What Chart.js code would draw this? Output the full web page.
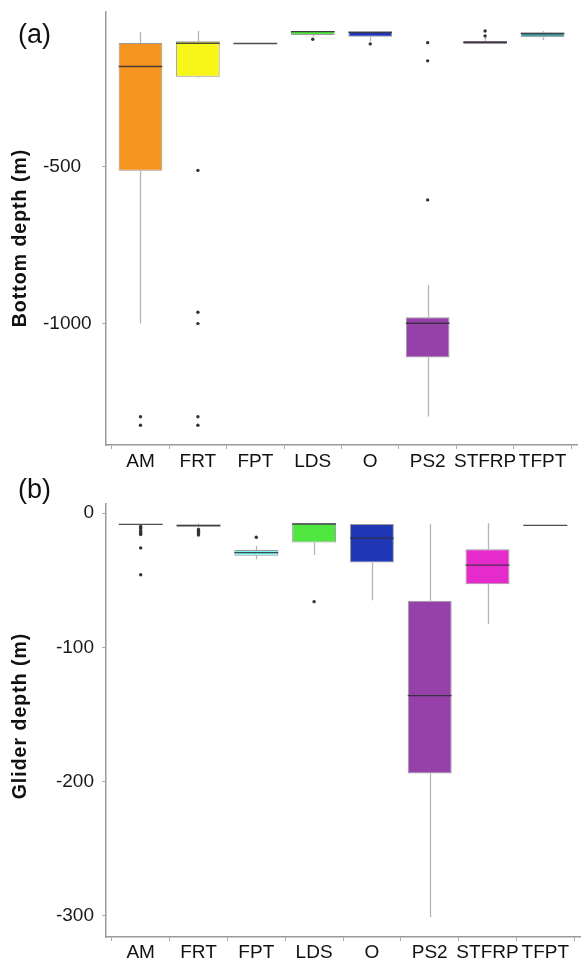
<!DOCTYPE html>
<html>
<head>
<meta charset="utf-8">
<script src="https://cdn.jsdelivr.net/npm/chart.js@4/dist/chart.umd.min.js"></script>
<style>
  html, body { margin: 0; padding: 0; background: #fff; }
  body { width: 584px; height: 960px; position: relative; overflow: hidden; font-family: "Liberation Sans", Arial, sans-serif; }
  .wrap { position: absolute; left: 0; width: 584px; height: 480px; }
  .panel { position: absolute; font-size: 27px; color: #111; line-height: 1; }
  .ytitle { position: absolute; font-weight: bold; font-size: 19.5px; letter-spacing: 1px; color: #111; white-space: nowrap; transform: translate(-50%, -50%) rotate(-90deg); line-height: 1; }
</style>
</head>
<body>
<div class="wrap" style="top:0"><canvas id="ca" width="584" height="480"></canvas></div>
<div class="wrap" style="top:480px"><canvas id="cb" width="584" height="480"></canvas></div>
<div class="panel" style="left:18px; top:21px">(a)</div>
<div class="panel" style="left:18px; top:476px">(b)</div>
<div class="ytitle" style="left:20px; top:238px">Bottom depth (m)</div>
<div class="ytitle" style="left:20px; top:716px">Glider depth (m)</div>
<script>
// ---------- data ----------
const categories = ["AM", "FRT", "FPT", "LDS", "O", "PS2", "STFRP", "TFPT"];
const boxColors = ["#F5951F", "#F8F518", "#80F4F0", "#4FE63F", "#1F37B5", "#9541A9", "#E52BCB", "#4A9DA0"];

// Panel (a): bottom depth (m)
const bottomHi  = [-70,  -67,  -107, -67, -69, -876,  -89,  -67];
const bottomQ3  = [-105, -100, -107, -67, -69, -979,  -99,  -72];
const bottomMed = [-180, -106, -107, -69, -71, -998,  -103, -75];
const bottomQ1  = [-512, -213, -107, -80, -85, -1107, -108, -87];
const bottomLo  = [-999, -215, -107, -85, -99, -1295, -108, -96];
const bottomOut = [
  [-1296, -1323],
  [-511, -963, -999, -1296, -1323],
  [],
  [-93],
  [-108],
  [-104, -162, -605],
  [-67, -83],
  []
];
const bottomTicks = [-1000, -500];

// Panel (b): glider depth (m)
const gliderHi  = [-8.5, -7.7,  -24.4, -7.7,  -8.2,  -8.2,  -7.7,  -9.2];
const gliderQ3  = [-8.5, -8.5,  -27.6, -7.7,  -8.2,  -65.4, -26.9, -9.2];
const gliderMed = [-8.5, -9.2,  -29.5, -8.2,  -18.7, -136,  -38.8, -9.2];
const gliderQ1  = [-8.5, -10.4, -31.9, -22,   -36.8, -194,  -53,   -9.2];
const gliderLo  = [-8.5, -11,   -34.5, -31.3, -65,   -301,  -82.6, -9.2];
const gliderOut = [
  [-10, -11, -12, -13.5, -15, -16, -26, -46],
  [-12.2, -13.5, -15, -16.4],
  [-18.1],
  [-66],
  [],
  [],
  [],
  []
];
const gliderTicks = [-300, -200, -100, 0];

// ---------- drawing helpers ----------
const boxPlugin = {
  id: 'boxParts',
  beforeDatasetsDraw(chart, args, opts) {
    const { ctx, scales: { x, y } } = chart;
    const s = opts.stats;
    ctx.save();
    ctx.strokeStyle = '#b5b5b5';
    ctx.lineWidth = 1.3;
    s.lo.forEach((lo, i) => {
      const px = Math.round(x.getPixelForValue(i + 1)) + 0.5;
      ctx.beginPath();
      ctx.moveTo(px, y.getPixelForValue(s.hi[i]));
      ctx.lineTo(px, y.getPixelForValue(s.q3[i]));
      ctx.moveTo(px, y.getPixelForValue(s.q1[i]));
      ctx.lineTo(px, y.getPixelForValue(lo));
      ctx.stroke();
    });
    ctx.restore();
  },
  afterDatasetsDraw(chart, args, opts) {
    const { ctx, scales: { y } } = chart;
    const s = opts.stats;
    const meta = chart.getDatasetMeta(0);
    ctx.save();
    ctx.strokeStyle = 'rgba(45,45,55,0.85)';
    ctx.lineWidth = 1.4;
    meta.data.forEach((bar, i) => {
      const half = bar.width / 2;
      const py = y.getPixelForValue(s.med[i]);
      ctx.beginPath();
      ctx.moveTo(bar.x - half, py);
      ctx.lineTo(bar.x + half, py);
      ctx.stroke();
    });
    ctx.restore();
  }
};

function makeChart(canvasId, st, outliers, yTicks, yMin, yMax, pad, xHeight, xPad, tickAlign, tickPad) {
  const boxData = categories.map((c, i) => ({ x: i + 1, y: [st.q1[i], st.q3[i]] }));
  const outData = [];
  outliers.forEach((arr, i) => arr.forEach(v => outData.push({ x: i + 1, y: v })));
  return new Chart(document.getElementById(canvasId), {
    type: 'bar',
    data: {
      datasets: [
        {
          type: 'bar',
          data: boxData,
          backgroundColor: boxColors,
          borderColor: 'rgba(130,130,130,0.8)',
          borderWidth: 1,
          borderSkipped: false,
          categoryPercentage: 1,
          barPercentage: 0.76,
          order: 2
        },
        {
          type: 'scatter',
          data: outData,
          pointRadius: 1.7,
          pointBackgroundColor: '#333',
          pointBorderWidth: 0,
          order: 1
        }
      ]
    },
    options: {
      responsive: false,
      animation: false,
      events: [],
      layout: { padding: pad },
      plugins: {
        legend: { display: false },
        tooltip: { enabled: false },
        boxParts: { stats: st }
      },
      scales: {
        x: {
          type: 'linear',
          min: 0.4,
          max: 8.6,
          offset: false,
          grid: { display: true, drawOnChartArea: false, drawTicks: true, tickLength: 4, tickColor: '#aaa' },
          border: { display: true, color: '#999', width: 1.5 },
          afterBuildTicks: (s) => { s.ticks = categories.map((c, i) => ({ value: i + 1 })); },
          afterFit: (s) => { s.height = xHeight; s.paddingLeft = 0; s.paddingRight = 0; },
          ticks: {
            autoSkip: false,
            maxRotation: 0,
            minRotation: 0,
            padding: xPad,
            color: '#111',
            font: { family: 'Liberation Sans', size: 19 },
            callback: (v) => categories[v - 1]
          }
        },
        y: {
          type: 'linear',
          min: yMin,
          max: yMax,
          grid: { display: true, drawOnChartArea: false, drawTicks: true, tickLength: 4, tickColor: '#aaa' },
          border: { display: true, color: '#999', width: 1.5 },
          afterBuildTicks: (s) => { s.ticks = yTicks.map(v => ({ value: v })); },
          afterFit: (s) => { s.width = 63; s.paddingTop = 0; s.paddingBottom = 0; },
          ticks: {
            crossAlign: tickAlign,
            padding: tickPad,
            color: '#1a1a1a',
            font: { family: 'Liberation Sans', size: 19 },
            callback: (v) => String(v)
          }
        }
      }
    },
    plugins: [boxPlugin]
  });
}

makeChart('ca',
  { hi: bottomHi, q3: bottomQ3, med: bottomMed, q1: bottomQ1, lo: bottomLo },
  bottomOut, bottomTicks, -1385.8, -4.2,
  { left: 43, top: 11.3, right: 7, bottom: 0 }, 35, 1, 'far', 8);

makeChart('cb',
  { hi: gliderHi, q3: gliderQ3, med: gliderMed, q1: gliderQ1, lo: gliderLo },
  gliderOut, gliderTicks, -315.7, 7,
  { left: 43, top: 23.6, right: 0, bottom: 0 }, 23, 0, 'near', 8);
</script>
</body>
</html>
